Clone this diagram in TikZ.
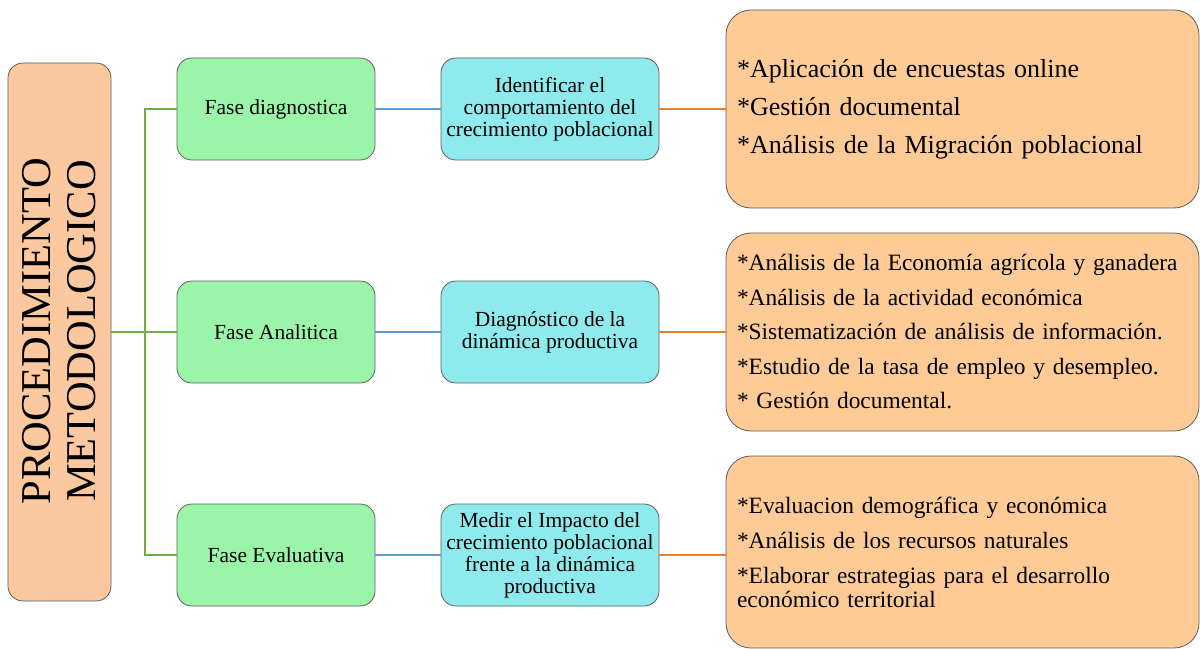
\documentclass[tikz,border=0pt]{standalone}
\usepackage{fontspec}
\setmainfont{Liberation Serif}
\definecolor{mainfill}{RGB}{252,200,160}
\definecolor{greenfill}{RGB}{154,245,168}
\definecolor{cyanfill}{RGB}{142,234,236}
\definecolor{orangefill}{RGB}{254,203,150}
\definecolor{edgegray}{RGB}{95,95,95}
\definecolor{lgreen}{RGB}{112,173,71}
\definecolor{lblue}{RGB}{91,155,213}
\definecolor{lorange}{RGB}{237,125,49}
\begin{document}
\begin{tikzpicture}[x=1bp,y=-1bp,
  box/.style={draw=edgegray, line width=0.8bp, rounded corners=15bp, inner sep=0pt, align=center},
  mainbox/.style={box, fill=mainfill, minimum width=103bp, minimum height=538bp},
  phasebox/.style={box, fill=greenfill, minimum width=198bp, minimum height=102bp,
    font=\fontsize{21.5bp}{22bp}\selectfont},
  goalbox/.style={box, fill=cyanfill, minimum width=218bp, minimum height=102bp,
    font=\fontsize{21.5bp}{22bp}\selectfont},
  actbox/.style={box, fill=orangefill, rounded corners=25bp, minimum width=473bp,
    text width=451bp, align=left},
  gline/.style={draw=lgreen, line width=2.2bp},
  bline/.style={draw=lblue, line width=2.2bp},
  oline/.style={draw=lorange, line width=2.2bp}]
\useasboundingbox (0,0) rectangle (1200,649);

\node[mainbox] (main) at (59.5,332) {};
\node[rotate=90, align=center, font=\fontsize{42.5bp}{45bp}\selectfont] (maintext) at (59.5,331) {PROCEDIMIENTO\\METODOLOGICO};

\node[phasebox] (g1) at (276,109) {Fase diagnostica};
\node[phasebox] (g2) at (276,332) {Fase Analitica};
\node[phasebox] (g3) at (276,555) {Fase Evaluativa};

\node[goalbox] (c1) at (550,109) {Identificar el\\comportamiento del\\crecimiento poblacional};
\node[goalbox] (c2) at (550,332) {Diagnóstico de la\\dinámica productiva};
\node[goalbox] (c3) at (550,555) {Medir el Impacto del\\crecimiento poblacional\\frente a la dinámica\\productiva};

\node[actbox, minimum height=198bp, font=\fontsize{26bp}{38bp}\selectfont] (o1) at (962.5,109)
  {*Aplicación de encuestas online\\{}*Gestión documental\\{}*Análisis de la Migración poblacional};
\node[actbox, minimum height=198bp, font=\fontsize{23.4bp}{34.5bp}\selectfont] (o2) at (962.5,332)
  {*Análisis de la Economía agrícola y ganadera\\{}*Análisis de la actividad económica\\{}*Sistematización de análisis de información.\\{}*Estudio de la tasa de empleo y desempleo.\\{}* Gestión documental.};
\node[actbox, minimum height=192bp, font=\fontsize{23.4bp}{24bp}\selectfont] (o3) at (962.5,552)
  {*Evaluacion demográfica y económica\\[11bp]*Análisis de los recursos naturales\\[11bp]*Elaborar estrategias para el desarrollo\\económico territorial};

\coordinate (trunk) at (145,332);
\draw[gline] (main.east |- g2.west) -- (g2.west);
\draw[gline] (g1.west) -| (trunk) |- (g3.west);

\draw[bline] (g1.east) -- (c1.west);
\draw[bline] (g2.east) -- (c2.west);
\draw[bline] (g3.east) -- (c3.west);

\draw[oline] (c1.east) -- (c1.east -| o1.west);
\draw[oline] (c2.east) -- (c2.east -| o2.west);
\draw[oline] (c3.east) -- (c3.east -| o3.west);
\end{tikzpicture}
\end{document}
